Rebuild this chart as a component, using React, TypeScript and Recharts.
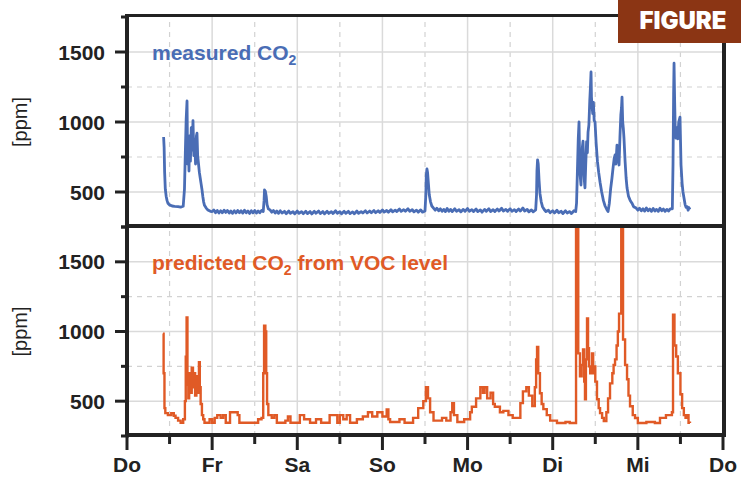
import React from 'react';
import { LineChart, Line, XAxis, YAxis, ReferenceLine } from 'recharts';

// x = days since Thursday 00:00, y = CO2 in ppm
const measuredCO2: Array<[number, number]> = [
  [0.43, 893], [0.436, 820], [0.442, 640], [0.45, 520], [0.46, 470], [0.47, 440], [0.48, 420], [0.5, 408],
  [0.53, 400], [0.56, 398], [0.6, 396], [0.63, 392], [0.66, 398],
  [0.675, 520], [0.685, 780], [0.695, 1020], [0.705, 1150], [0.712, 700], [0.72, 880], [0.728, 650], [0.736, 900],
  [0.745, 720], [0.755, 960], [0.765, 800], [0.775, 1010], [0.785, 760], [0.795, 880], [0.805, 700], [0.815, 900],
  [0.822, 920], [0.83, 760], [0.84, 700], [0.85, 640], [0.86, 600], [0.87, 560], [0.88, 520], [0.89, 470],
  [0.9, 430], [0.91, 405], [0.93, 385], [0.95, 372], [0.98, 362],
  [1.0, 360], [1.02, 372], [1.04, 352], [1.06, 368], [1.08, 350], [1.1, 366], [1.12, 352], [1.14, 370],
  [1.16, 354], [1.18, 368], [1.2, 350], [1.22, 364], [1.24, 348], [1.26, 366], [1.28, 350], [1.3, 368],
  [1.32, 352], [1.34, 366], [1.36, 349], [1.38, 370], [1.4, 352], [1.42, 364], [1.44, 347], [1.46, 366],
  [1.48, 351], [1.5, 368], [1.52, 350], [1.54, 364], [1.56, 352], [1.58, 368], [1.6, 360],
  [1.61, 440], [1.615, 515], [1.625, 505], [1.635, 470], [1.645, 410], [1.66, 380], [1.68, 372], [1.7, 356],
  [1.72, 368], [1.74, 350], [1.76, 364], [1.78, 348], [1.8, 366], [1.82, 350], [1.85, 362], [1.87, 345],
  [1.9, 364], [1.92, 348], [1.95, 360], [1.97, 344], [2.0, 364], [2.02, 348], [2.05, 360], [2.07, 345],
  [2.1, 362], [2.12, 346], [2.15, 360], [2.17, 343], [2.2, 362], [2.22, 348], [2.25, 364], [2.27, 346],
  [2.3, 360], [2.32, 344], [2.35, 362], [2.37, 347], [2.4, 360], [2.42, 346], [2.45, 366], [2.47, 348],
  [2.5, 360], [2.52, 344], [2.55, 362], [2.57, 348], [2.6, 362], [2.62, 346], [2.65, 358], [2.67, 345],
  [2.7, 364], [2.72, 348], [2.75, 360], [2.77, 350], [2.8, 366], [2.82, 350], [2.85, 364], [2.87, 352],
  [2.9, 368], [2.92, 352], [2.95, 366], [2.97, 354], [3.0, 372], [3.02, 356], [3.05, 368], [3.07, 356],
  [3.1, 374], [3.12, 358], [3.15, 370], [3.17, 360], [3.2, 378], [3.22, 362], [3.25, 374], [3.27, 362],
  [3.3, 380], [3.32, 362], [3.35, 374], [3.37, 358], [3.4, 370], [3.42, 356], [3.45, 372], [3.47, 356],
  [3.5, 364],
  [3.51, 480], [3.515, 620], [3.523, 665], [3.53, 640], [3.54, 560], [3.55, 480], [3.565, 430], [3.58, 400],
  [3.6, 385], [3.62, 370], [3.64, 384], [3.66, 366], [3.68, 380], [3.7, 362], [3.72, 376], [3.74, 360],
  [3.76, 382], [3.78, 362], [3.8, 376], [3.82, 360], [3.85, 380], [3.87, 362], [3.9, 374], [3.92, 358],
  [3.95, 376], [3.97, 362], [4.0, 382], [4.02, 362], [4.05, 374], [4.07, 360], [4.1, 378], [4.12, 360],
  [4.15, 372], [4.17, 356], [4.2, 376], [4.22, 362], [4.25, 380], [4.27, 360], [4.3, 374], [4.32, 360],
  [4.35, 378], [4.37, 364], [4.4, 384], [4.42, 364], [4.45, 376], [4.47, 362], [4.5, 380], [4.52, 362],
  [4.55, 374], [4.57, 360], [4.6, 378], [4.62, 364], [4.65, 386], [4.67, 364], [4.7, 376], [4.72, 358],
  [4.75, 372], [4.77, 358], [4.8, 372],
  [4.81, 480], [4.815, 650], [4.822, 730], [4.83, 700], [4.84, 580], [4.85, 490], [4.865, 430], [4.88, 395],
  [4.9, 375], [4.92, 360], [4.95, 370], [4.97, 352], [5.0, 366], [5.02, 350], [5.05, 370], [5.07, 352],
  [5.1, 362], [5.12, 346], [5.15, 366], [5.17, 350], [5.2, 360], [5.22, 346], [5.25, 366], [5.27, 360],
  [5.28, 420], [5.29, 650], [5.3, 880], [5.309, 1000], [5.315, 780], [5.322, 620], [5.332, 550], [5.34, 700],
  [5.348, 820], [5.356, 864], [5.364, 680], [5.372, 580], [5.379, 530], [5.388, 700], [5.398, 860], [5.407, 780],
  [5.415, 928], [5.425, 980], [5.435, 1150], [5.443, 1250], [5.45, 1357], [5.455, 1180], [5.461, 1120],
  [5.47, 1060], [5.478, 1140], [5.487, 1010], [5.497, 1000], [5.51, 850], [5.525, 720], [5.54, 640],
  [5.556, 570], [5.575, 500], [5.595, 440], [5.615, 400], [5.635, 375], [5.65, 360], [5.665, 420], [5.68, 520],
  [5.696, 600], [5.71, 680], [5.722, 740], [5.732, 764], [5.742, 700], [5.755, 835], [5.767, 760], [5.779, 693],
  [5.79, 900], [5.8, 1050], [5.808, 1100], [5.814, 1178], [5.822, 1000], [5.83, 950], [5.837, 885], [5.85, 720],
  [5.862, 600], [5.873, 528], [5.89, 470], [5.91, 440], [5.931, 420], [5.95, 395], [5.98, 385], [6.0, 370],
  [6.02, 384], [6.04, 366], [6.06, 380], [6.08, 364], [6.1, 386], [6.12, 366], [6.14, 378], [6.16, 362],
  [6.18, 382], [6.2, 364], [6.22, 376], [6.24, 362], [6.26, 384], [6.28, 366], [6.3, 378], [6.32, 362],
  [6.34, 376], [6.36, 364], [6.38, 380], [6.405, 380], [6.413, 700], [6.42, 1200], [6.425, 1420], [6.432, 1150],
  [6.44, 920], [6.448, 885], [6.46, 960], [6.47, 880], [6.48, 1000], [6.495, 1035], [6.507, 693], [6.52, 560],
  [6.53, 500], [6.542, 457], [6.555, 410], [6.566, 390], [6.58, 395], [6.59, 370], [6.6, 388], [6.612, 375],
];

const predictedCO2: Array<[number, number]> = [
  [0.423, 985], [0.43, 700], [0.44, 450], [0.45, 414], [0.48, 400], [0.52, 414], [0.55, 395], [0.57, 380],
  [0.6, 360], [0.63, 345], [0.66, 370],
  [0.68, 500], [0.69, 820], [0.7, 1100], [0.71, 620], [0.72, 520], [0.73, 700], [0.745, 560], [0.76, 740],
  [0.775, 600], [0.79, 700], [0.8, 540], [0.815, 680], [0.83, 560], [0.845, 780], [0.855, 600], [0.865, 480],
  [0.88, 400], [0.895, 370], [0.91, 345],
  [0.97, 370], [1.0, 345], [1.03, 380], [1.06, 400], [1.1, 380], [1.13, 400], [1.16, 345], [1.21, 420],
  [1.3, 400], [1.32, 345], [1.54, 370], [1.58, 380], [1.6, 700], [1.61, 1042], [1.625, 1000], [1.635, 700],
  [1.645, 480], [1.66, 400], [1.7, 380], [1.73, 400], [1.76, 345],
  [1.86, 360], [1.89, 390], [1.92, 345], [2.03, 400], [2.08, 370], [2.15, 345], [2.22, 370], [2.28, 345],
  [2.38, 400], [2.47, 345], [2.5, 400], [2.54, 370], [2.58, 400], [2.62, 345], [2.7, 370], [2.77, 390],
  [2.83, 420], [2.88, 390], [2.94, 420], [3.0, 390], [3.05, 440], [3.07, 370], [3.09, 350], [3.2, 370],
  [3.26, 345], [3.36, 380], [3.42, 450], [3.48, 500], [3.51, 600], [3.535, 520], [3.56, 420], [3.6, 360],
  [3.7, 380], [3.75, 360], [3.8, 420], [3.82, 485], [3.84, 400], [3.88, 350], [3.96, 370], [4.03, 420],
  [4.05, 460], [4.1, 520], [4.15, 600], [4.18, 560], [4.2, 600], [4.23, 520], [4.27, 560], [4.3, 480],
  [4.32, 460], [4.38, 420], [4.42, 430], [4.48, 400], [4.53, 380], [4.58, 380], [4.62, 486], [4.65, 570],
  [4.69, 600], [4.72, 540], [4.76, 465], [4.79, 600], [4.805, 800], [4.816, 890], [4.83, 700], [4.85, 557],
  [4.87, 480], [4.89, 443], [4.93, 400], [4.97, 360], [5.05, 343], [5.15, 350], [5.2, 343],
  [5.274, 1950], [5.3, 843], [5.32, 679], [5.34, 760], [5.356, 871], [5.37, 640], [5.379, 514], [5.39, 800],
  [5.403, 1093], [5.415, 880], [5.426, 750], [5.44, 700], [5.461, 843], [5.475, 700], [5.485, 750], [5.5, 640],
  [5.52, 514], [5.54, 450], [5.556, 414], [5.58, 380], [5.6, 357], [5.63, 420], [5.65, 520], [5.673, 628],
  [5.7, 700], [5.715, 760], [5.732, 800], [5.75, 900], [5.765, 1000], [5.779, 1128], [5.805, 1950], [5.826, 943],
  [5.85, 760], [5.873, 657], [5.89, 540], [5.908, 464], [5.94, 400], [5.967, 379], [6.0, 343], [6.1, 350],
  [6.2, 343], [6.26, 380], [6.33, 400], [6.4, 420], [6.413, 1121], [6.43, 900], [6.45, 821], [6.47, 700],
  [6.5, 550], [6.52, 450], [6.54, 400], [6.56, 380], [6.58, 400], [6.595, 345], [6.612, 343],
];

const dayLabels = ['Do', 'Fr', 'Sa', 'So', 'Mo', 'Di', 'Mi', 'Do'];
const dayTicks = [0, 0.5, 1, 1.5, 2, 2.5, 3, 3.5, 4, 4.5, 5, 5.5, 6, 6.5, 7];
const ppmTicks = [250, 500, 750, 1000, 1250, 1500, 1750];
const ppmLabelled = [500, 1000, 1500];
const solidDays = [1, 2, 3, 4, 5, 6];
const dashedDays = [0.5, 1.5, 2.5, 3.5, 4.5, 5.5, 6.5];
const dashedPpm = [750, 1250];

const BLUE = '#4a6db5';
const ORANGE = '#e05a26';
const INK = '#222';
const FONT = '"Liberation Sans", Arial, Helvetica, sans-serif';
const AXIS_X = 129;
const AXIS_BOTTOM = 437;

function PpmTick({ y, payload }: any) {
  const major = ppmLabelled.includes(payload.value);
  return (
    <g>
      <line x1={AXIS_X - (major ? 14 : 8)} x2={AXIS_X} y1={y} y2={y} stroke={INK} strokeWidth={3} />
      {major && (
        <text x={105} y={y} dy="0.36em" textAnchor="end" fontFamily={FONT} fontWeight="bold" fontSize={21} fill={INK}>
          {payload.value}
        </text>
      )}
    </g>
  );
}

function DayTick({ x, payload }: any) {
  const major = Number.isInteger(payload.value);
  return (
    <g>
      <line x1={x} x2={x} y1={AXIS_BOTTOM} y2={AXIS_BOTTOM + (major ? 13 : 7)} stroke={INK} strokeWidth={3} />
      {major && (
        <text x={x} y={472} textAnchor="middle" fontFamily={FONT} fontWeight="bold" fontSize={21} fill={INK}>
          {dayLabels[payload.value]}
        </text>
      )}
    </g>
  );
}

function PpmLabel({ viewBox }: any) {
  const cy = viewBox.y + viewBox.height / 2;
  return (
    <text x={21} y={cy} dy="0.3em" transform={`rotate(-90 21 ${cy})`} textAnchor="middle" fontFamily={FONT} fontSize={20} fill={INK}>
      [ppm]
    </text>
  );
}

function Grid() {
  return (
    <>
      {solidDays.map((d) => (
        <ReferenceLine key={'vs' + d} x={d} stroke="#dadada" strokeWidth={1.5} />
      ))}
      {dashedDays.map((d) => (
        <ReferenceLine key={'vd' + d} x={d} stroke="#d2d2d2" strokeWidth={1.2} strokeDasharray="5 5" />
      ))}
      {ppmLabelled.map((v) => (
        <ReferenceLine key={'hs' + v} y={v} stroke="#dadada" strokeWidth={1.5} />
      ))}
      {dashedPpm.map((v) => (
        <ReferenceLine key={'hd' + v} y={v} stroke="#d2d2d2" strokeWidth={1.2} strokeDasharray="5 5" />
      ))}
    </>
  );
}

const toRows = (pts: Array<[number, number]>) => pts.map(([d, v]) => ({ d, v }));

function Bar({ left, top, width, height }: { left: number; top: number; width: number; height: number }) {
  return <div style={{ position: 'absolute', left, top, width, height, background: INK }} />;
}

export default function App() {
  return (
    <div style={{ position: 'absolute', left: 0, top: 0, width: 741, height: 478, background: '#fff', overflow: 'hidden' }}>
      <div style={{ position: 'absolute', left: 0, top: 0 }}>
        <LineChart width={741} height={240} data={toRows(measuredCO2)} margin={{ top: 17, right: 18, bottom: 13, left: 0 }}>
          <XAxis dataKey="d" type="number" domain={[0, 7]} ticks={dayTicks} hide height={0} />
          <YAxis
            type="number"
            domain={[250, 1750]}
            ticks={ppmTicks}
            allowDataOverflow
            width={127}
            axisLine={false}
            tickLine={false}
            tick={<PpmTick />}
            label={<PpmLabel />}
          />
          {Grid()}
          <Line dataKey="v" type="linear" stroke={BLUE} strokeWidth={2.8} strokeLinejoin="round" dot={false} isAnimationActive={false} />
        </LineChart>
      </div>
      <div style={{ position: 'absolute', left: 0, top: 0 }}>
        <LineChart width={741} height={478} data={toRows(predictedCO2)} margin={{ top: 227, right: 18, bottom: 0, left: 0 }}>
          <XAxis
            dataKey="d"
            type="number"
            domain={[0, 7]}
            ticks={dayTicks}
            interval={0}
            height={42}
            axisLine={false}
            tickLine={false}
            tick={<DayTick />}
          />
          <YAxis
            type="number"
            domain={[250, 1750]}
            ticks={ppmTicks}
            allowDataOverflow
            width={127}
            axisLine={false}
            tickLine={false}
            tick={<PpmTick />}
            label={<PpmLabel />}
          />
          {Grid()}
          <Line dataKey="v" type="stepAfter" stroke={ORANGE} strokeWidth={2.4} dot={false} isAnimationActive={false} />
        </LineChart>
      </div>

      {/* panel frames */}
      <Bar left={125} top={14} width={601} height={3} />
      <Bar left={125} top={224} width={601} height={4} />
      <Bar left={125} top={433} width={601} height={4} />
      <Bar left={125} top={14} width={4} height={423} />
      <Bar left={722} top={14} width={4} height={423} />

      <svg width={741} height={478} style={{ position: 'absolute', left: 0, top: 0, pointerEvents: 'none' }}>
        <text x={152} y={60} fontFamily={FONT} fontWeight="bold" fontSize={21} fill={BLUE}>
          measured CO<tspan fontSize={14} dy={5}>2</tspan>
        </text>
        <text x={152} y={270} fontFamily={FONT} fontWeight="bold" fontSize={21} fill={ORANGE}>
          predicted CO<tspan fontSize={14} dy={5}>2</tspan>
          <tspan dy={-5}> from VOC level</tspan>
        </text>
        <rect x={618} y={0} width={123} height={43} fill="#8b3514" />
        <text x={683} y={29} textAnchor="middle" fontFamily="Inter, Roboto, sans-serif" fontWeight={900} fontSize={24} fill="#fff">
          FIGURE
        </text>
      </svg>
    </div>
  );
}
